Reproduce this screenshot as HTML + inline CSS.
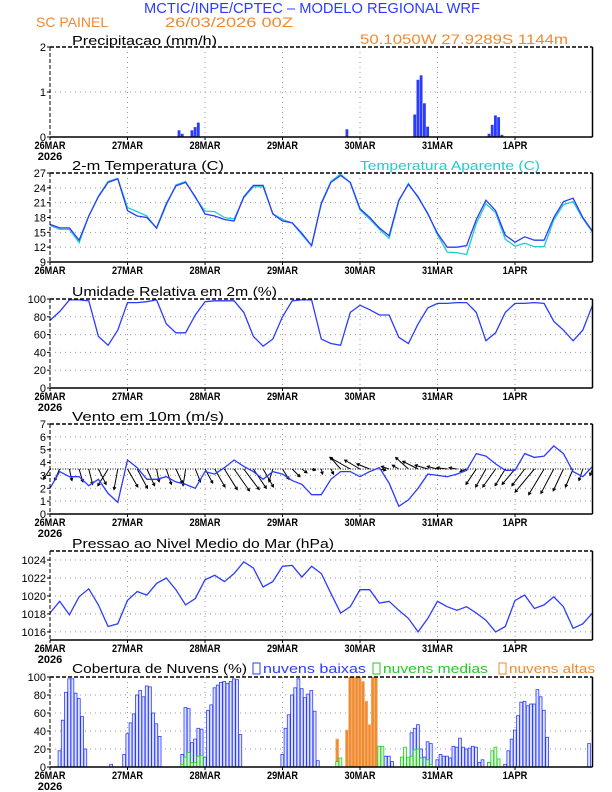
<!DOCTYPE html>
<html><head><meta charset="utf-8"><style>
html,body{margin:0;padding:0;background:#fff;width:612px;height:792px;overflow:hidden}
svg{display:block;font-family:"Liberation Sans",sans-serif}
</style></head><body>
<svg id="chart" width="612" height="792" viewBox="0 0 612 792" xmlns="http://www.w3.org/2000/svg">
<text x="312" y="13" text-anchor="middle" font-size="15" fill="#2b3cff" textLength="336" lengthAdjust="spacingAndGlyphs">MCTIC/INPE/CPTEC – MODELO REGIONAL WRF</text>
<text x="36" y="27" font-size="14" fill="#f08a30">SC PAINEL</text>
<text x="165" y="27" font-size="14" fill="#f08a30" textLength="128" lengthAdjust="spacingAndGlyphs">26/03/2026 00Z</text>
<text x="360" y="44" font-size="14" fill="#f08a30" textLength="208" lengthAdjust="spacingAndGlyphs">50.1050W 27.9289S 1144m</text>
<text x="72" y="45" font-size="13" fill="#000" textLength="145" lengthAdjust="spacingAndGlyphs">Precipitacao (mm/h)</text>
<text x="72" y="170" font-size="13" fill="#000" textLength="152" lengthAdjust="spacingAndGlyphs">2-m Temperatura (C)</text>
<text x="360" y="170" font-size="13" fill="#22cccc" textLength="180" lengthAdjust="spacingAndGlyphs">Temperatura Aparente (C)</text>
<text x="72" y="296" font-size="13" fill="#000" textLength="205" lengthAdjust="spacingAndGlyphs">Umidade Relativa em 2m (%)</text>
<text x="72" y="421" font-size="13" fill="#000" textLength="152" lengthAdjust="spacingAndGlyphs">Vento em 10m (m/s)</text>
<text x="72" y="548" font-size="13" fill="#000" textLength="262" lengthAdjust="spacingAndGlyphs">Pressao ao Nivel Medio do Mar (hPa)</text>
<text x="72" y="673" font-size="13" fill="#000" textLength="175" lengthAdjust="spacingAndGlyphs">Cobertura de Nuvens (%)</text>
<rect x="253" y="663" width="7" height="11" fill="#fff" stroke="#2b3cff"/>
<text x="263" y="673" font-size="13" fill="#2b3cff" textLength="103" lengthAdjust="spacingAndGlyphs">nuvens baixas</text>
<rect x="373" y="663" width="7" height="11" fill="#fff" stroke="#22cc22"/>
<text x="383" y="673" font-size="13" fill="#22cc22" textLength="105" lengthAdjust="spacingAndGlyphs">nuvens medias</text>
<rect x="499" y="663" width="7" height="11" fill="#fff" stroke="#f08a30"/>
<text x="509" y="673" font-size="13" fill="#f08a30" textLength="86" lengthAdjust="spacingAndGlyphs">nuvens altas</text>
</svg>
<script>
const dayLabels=["26MAR","27MAR","28MAR","29MAR","30MAR","31MAR","1APR"];
const hours3=[];for(let i=0;i<=56;i++)hours3.push(i*3);
const precipHours=[40,41,44,45,46,92,113,114,115,116,117,136,137,138,139,140];
const precipVals=[0.15,0.07,0.15,0.22,0.32,0.17,0.5,1.27,1.37,0.75,0.23,0.07,0.27,0.48,0.44,0.05];
const tempVals=[16.6,15.9,15.9,13.4,18.3,22.2,25.1,25.8,19.4,18.3,18.0,15.9,20.8,24.4,25.1,22.2,18.7,18.3,17.6,17.3,22.2,24.5,24.5,18.7,17.3,16.9,14.8,12.3,20.8,25.1,26.5,25.1,19.8,18.0,15.9,14.3,21.5,24.7,22.2,18.7,14.8,12.0,12.0,12.3,17.6,21.5,19.4,14.4,13.0,14.1,13.4,13.4,18.0,21.2,21.9,18.0,15.2];
const appTempVals=[16.4,15.6,15.6,12.9,18.3,22.3,25.3,25.9,20.0,19.2,18.3,15.8,20.5,24.6,25.3,22.0,19.3,19.2,18.0,17.7,22.0,24.2,24.2,18.8,17.6,16.9,14.5,12.3,21.0,25.3,26.8,25.0,19.5,17.7,15.6,13.8,21.3,24.9,22.0,18.9,14.5,11.0,10.9,10.5,16.8,20.8,19.0,13.6,12.2,12.8,12.1,12.1,17.5,20.6,21.2,17.8,15.0];
const rhVals=[76,86,99,99,98,58,48,65,96,96,97,99,72,62,62,82,97,98,98,98,85,58,47,55,80,98,99,99,55,50,48,85,93,88,82,82,57,50,72,90,95,95,96,96,85,53,62,85,95,95,96,95,75,65,53,65,93];
const windSpeed=[2.0,3.3,2.9,2.9,2.2,2.7,1.6,0.9,4.2,3.6,2.7,2.7,2.9,2.5,2.3,2.0,3.3,3.1,3.6,4.2,3.7,3.3,2.7,3.3,3.1,2.6,2.3,1.5,1.5,2.7,3.3,3.3,2.9,3.3,3.6,2.4,0.6,1.1,2.0,3.1,3.0,2.9,3.1,3.4,4.7,4.5,3.9,3.4,3.4,4.7,4.4,4.5,5.3,4.7,3.3,2.9,3.7];
const windU=[-0.5,-0.4,0.2,0.3,0.3,0.6,-0.8,-0.3,0.8,0.8,0.6,0.2,0.4,0.5,-0.2,0.4,0.6,0.8,1.0,1.2,1.2,1.0,0.8,-0.3,0.5,0.6,0.4,0.3,0.1,0.2,-0.8,-1.6,-1.2,-1.0,0.5,-0.6,-0.5,-1.0,-1.2,-1.0,-0.8,-0.8,-0.6,-0.5,-0.8,-0.8,-1.0,-0.8,-1.0,-1.0,-1.5,-1.2,-1.0,-0.8,-0.6,-0.3,-0.2];
const windV=[-0.8,-0.9,-0.9,-1.0,-1.2,-1.2,-1.3,-1.6,-1.4,-1.5,-1.3,-1.0,-1.2,-1.1,-1.3,-1.0,-1.1,-1.4,-1.6,-1.7,-1.6,-1.5,-1.4,-1.0,-0.8,-0.6,-0.3,-0.1,-0.4,-0.4,0.9,0.9,0.7,0.4,-0.1,0.2,0.3,0.9,0.6,0.3,0.2,0.1,0.1,-0.2,-1.2,-1.4,-1.4,-1.3,-1.2,-1.3,-1.8,-2.0,-1.9,-1.7,-1.4,-0.9,-0.5];
const pressVals=[1018.1,1019.4,1017.9,1019.9,1020.8,1019.0,1016.6,1016.9,1019.5,1020.5,1020.1,1021.4,1022.0,1020.7,1019.0,1019.7,1021.8,1022.3,1021.6,1022.5,1023.8,1023.1,1021.0,1021.6,1023.3,1023.4,1022.1,1023.3,1022.5,1020.3,1018.1,1018.8,1020.7,1020.7,1019.2,1019.4,1018.4,1017.5,1016.0,1017.5,1019.4,1018.8,1018.4,1018.8,1018.1,1017.3,1016.0,1016.6,1019.5,1020.1,1018.6,1019.0,1019.9,1018.8,1016.4,1016.9,1018.1];
const lowHours=[3,4,5,6,7,8,9,10,11,19,23,24,25,26,27,28,29,30,31,32,33,34,41,42,43,44,45,46,47,48,49,50,51,52,53,54,55,56,57,58,59,72,73,74,75,76,77,78,79,80,81,82,83,102,103,104,105,106,111,112,113,114,115,116,117,118,120,121,122,123,124,125,126,127,128,129,130,131,132,133,134,136,141,142,143,144,145,146,147,148,149,150,151,152,153,154,167];
const lowVals=[18,52,83,98,98,82,76,56,20,3,14,37,49,59,80,85,78,90,89,60,48,34,14,66,65,27,31,43,42,11,63,69,88,91,94,95,93,95,98,97,36,14,43,58,80,88,98,87,77,81,85,62,7,4,8,12,12,6,9,38,43,47,20,11,28,26,8,14,12,12,10,23,22,32,22,20,21,23,22,5,8,5,3,18,31,41,57,72,73,68,70,70,86,78,63,33,26];
const midHours=[41,42,43,44,45,46,47,89,90,102,103,109,110,111,112,113,114,115,117,118,136,137,138,139];
const midVals=[3,11,16,5,5,12,13,6,10,23,23,11,22,11,12,19,20,10,8,3,5,18,22,9];
const highHours=[44,80,81,89,92,93,94,95,96,97,98,99,100,101,102,154];
const highVals=[11,53,25,31,41,100,100,100,100,95,73,47,100,100,23,8];

const NS="http://www.w3.org/2000/svg";
const svg=document.getElementById('chart');
const X0=50,X1=592.5;
function xAt(h){return X0+h*(X1-X0)/168;}
function mk(tag,attrs,parent){const e=document.createElementNS(NS,tag);for(const k in attrs)e.setAttribute(k,attrs[k]);(parent||svg).appendChild(e);return e;}
function yScale(p){return v=>p.bottom-(v-p.min)/(p.max-p.min)*(p.bottom-p.top);}

const panels=[
 {key:"precip",top:47,bottom:137,min:0,max:2,ticks:[0,1,2],year:true},
 {key:"temp",top:173,bottom:262,min:9,max:27,ticks:[9,12,15,18,21,24,27],year:false},
 {key:"rh",top:299,bottom:388,min:0,max:100,ticks:[0,20,40,60,80,100],year:true},
 {key:"wind",top:424,bottom:514,min:0,max:7,ticks:[0,1,2,3,4,5,6,7],year:true},
 {key:"pressure",top:551,bottom:640,min:1015.1,max:1025.0,ticks:[1016,1018,1020,1022,1024],year:true},
 {key:"cloud",top:677,bottom:767,min:0,max:100,ticks:[0,20,40,60,80,100],year:true}
];
panels.forEach(p=>{
 const y=yScale(p);p.y=y;
 const g=mk('g',{});
 
 
 p.g=g;
 p.ticks.forEach(t=>{
  const yy=y(t);
  if(t!==p.min&&t!==p.max){const gl=mk('line',{x1:X0,x2:X1,y1:yy,y2:yy,stroke:'#999','stroke-dasharray':'1,4','stroke-width':1},g);
   }
  const tl=mk('text',{x:X0-4,y:yy+4,'text-anchor':'end','font-size':11,fill:'#000'},g);
  
  tl.textContent=t;
  mk('line',{x1:X0-3,x2:X0,y1:yy,y2:yy,stroke:'#000'},g);
 });
 dayLabels.forEach((d,i)=>{
  const xx=xAt(i*24);
  if(i>0){const vl=mk('line',{x1:xx,x2:xx,y1:p.top,y2:p.bottom,stroke:'#999','stroke-dasharray':'1,4'},g);
   }
  mk('line',{x1:xx,x2:xx,y1:p.bottom,y2:p.bottom+3,stroke:'#000'},g);
  const dl=mk('text',{x:xx,y:p.bottom+12,'text-anchor':'middle','font-size':11,'font-weight':'bold',fill:'#000',textLength:d.length*6.2,lengthAdjust:'spacingAndGlyphs'},g);
  
  dl.textContent=d;
 });
 if(p.year){const yl=mk('text',{x:X0,y:p.bottom+23,'text-anchor':'middle','font-size':11,'font-weight':'bold',fill:'#000'},g);
  yl.textContent='2026';}
});
function frame(p){
 const g=p.g;
 mk('line',{x1:X0,x2:X1,y1:p.top,y2:p.top,stroke:'#000','stroke-width':1.5,'stroke-dasharray':'4,2'},g);
 mk('line',{x1:X0,x2:X0,y1:p.top,y2:p.bottom,stroke:'#000','stroke-width':1,'stroke-dasharray':'4,2'},g);
 mk('line',{x1:X1,x2:X1,y1:p.top,y2:p.bottom,stroke:'#000','stroke-width':1.5},g);
 mk('line',{x1:X0,x2:X1,y1:p.bottom,y2:p.bottom,stroke:'#000','stroke-width':1.5},g);
}
function line(p,vals,color,name){
 const d=vals.map((v,i)=>(i?'L':'M')+xAt(hours3[i]).toFixed(1)+','+p.y(v).toFixed(1)).join('');
 const e=mk('path',{d:d,fill:'none',stroke:color,'stroke-width':1.3},p.g);
 
}
function bars(p,hrs,vals,fill,stroke,name){
 const w=(X1-X0)/168;
 hrs.forEach((h,i)=>{
  const x=xAt(h)-w/2,y=p.y(vals[i]);
  const r=mk('rect',{x:x.toFixed(1),y:y.toFixed(1),width:(w-0.4).toFixed(2),height:(p.bottom-y).toFixed(1),fill:fill,stroke:stroke,'stroke-width':stroke==='none'?0:0.8},p.g);
  
 });
}
// precip
bars(panels[0],precipHours,precipVals,'#2b3cff','none','precip-bar');
// temp
line(panels[1],appTempVals,'#22cccc','apparent-temp-line');
line(panels[1],tempVals,'#2b3cff','temp-line');
// rh
line(panels[2],rhVals,'#2b3cff','rh-line');
// wind
{const p=panels[3];const base=p.y(3.5);const k=(p.bottom-p.top)/(p.max-p.min);
 const bl=mk('line',{x1:X0,x2:X1,y1:base,y2:base,stroke:'#000','stroke-dasharray':'1,1.5','stroke-width':1},p.g);
 
 hours3.forEach((h,i)=>{
  const x=xAt(h),ex=x+windU[i]*k,ey=base-windV[i]*k;
  const ang=Math.atan2(ey-base,ex-x),L=3;
  const a=mk('path',{d:`M${x},${base}L${ex},${ey}M${ex-L*Math.cos(ang-0.5)},${ey-L*Math.sin(ang-0.5)}L${ex},${ey}L${ex-L*Math.cos(ang+0.5)},${ey-L*Math.sin(ang+0.5)}`,stroke:'#000',fill:'none','stroke-width':1},p.g);
  
 });
 line(p,windSpeed,'#2b3cff','wind-speed-line');}
// pressure
line(panels[4],pressVals,'#2b3cff','pressure-line');
// clouds
bars(panels[5],highHours,highVals,'#f08a30','#f5b070','high-cloud-bar');
bars(panels[5],lowHours,lowVals,'#dfe3ff','#2b3cff','low-cloud-bar');
bars(panels[5],midHours,midVals,'#d8ffd8','#22cc22','mid-cloud-bar');
panels.forEach(frame);
</script>
</body></html>
